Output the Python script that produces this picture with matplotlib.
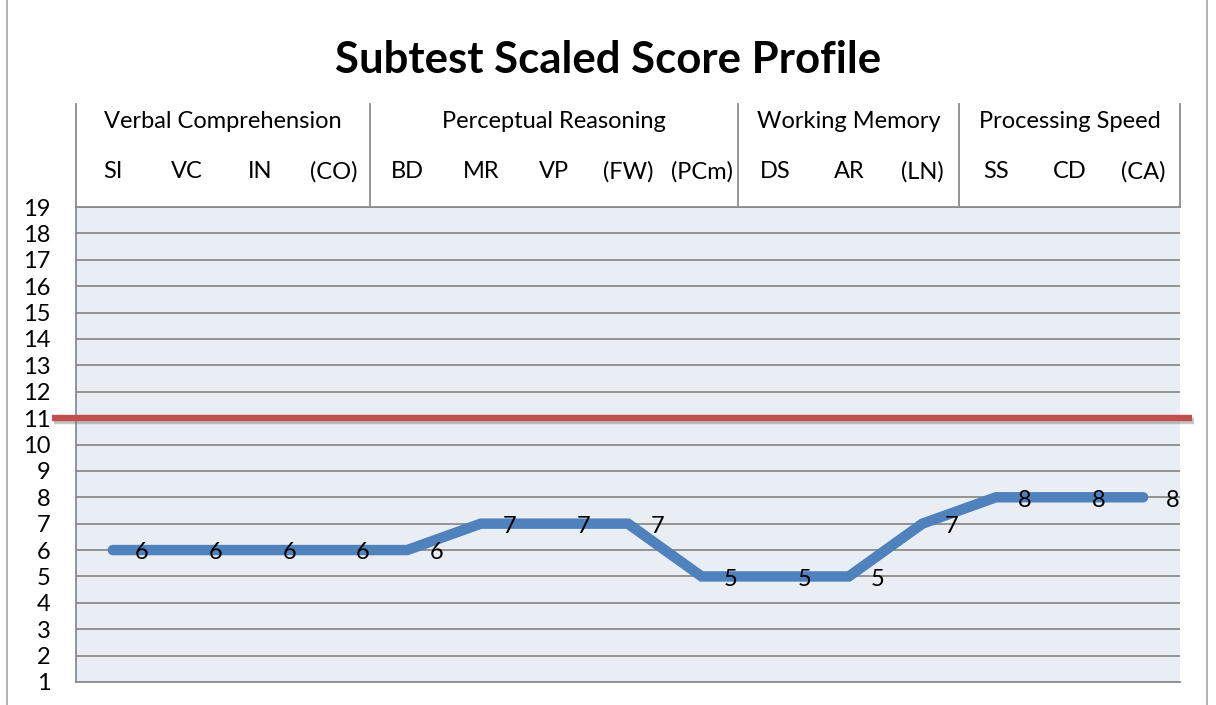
import matplotlib
matplotlib.use("Agg")
import matplotlib.pyplot as plt
import matplotlib.patheffects as pe
from matplotlib.lines import Line2D

# ---- data ----
groups = ["Verbal Comprehension", "Perceptual Reasoning", "Working Memory", "Processing Speed"]
group_sizes = [4, 5, 3, 3]
subtests = ["SI", "VC", "IN", "(CO)", "BD", "MR", "VP", "(FW)", "(PCm)",
            "DS", "AR", "(LN)", "SS", "CD", "(CA)"]
scores = [6, 6, 6, 6, 6, 7, 7, 7, 5, 5, 5, 7, 8, 8, 8]
reference_score = 11
y_ticks = list(range(1, 20))
title = "Subtest Scaled Score Profile"

FONT = ["Lato", "DejaVu Sans"]
plt.rcParams['font.family'] = FONT
FS = 17

W, H = 1216, 705
fig = plt.figure(figsize=(W / 100, H / 100), dpi=100)
fig.patch.set_facecolor("white")

# figure border lines
for xp in (7, 1207):
    fig.add_artist(Line2D([xp / W, xp / W], [0, 1], color="#A6A6A6", lw=1.2,
                          transform=fig.transFigure))

ax = fig.add_axes([76 / W, (H - 682) / H, (1180 - 76) / W, (682 - 207) / H])
ax.set_facecolor("#E9EDF4")
n = len(subtests)
x = list(range(n))
ax.set_xlim(-0.5, n - 0.5)
ax.set_ylim(min(y_ticks), max(y_ticks))

grid_c = "#8C8C8C"
for yv in y_ticks:
    ax.axhline(yv, color=grid_c, lw=1.3, zorder=1)

for s in ["top", "right"]:
    ax.spines[s].set_visible(False)
for s in ["left", "bottom"]:
    ax.spines[s].set_color(grid_c)
    ax.spines[s].set_linewidth(1.3)

ax.set_yticks(y_ticks)
ax.set_yticklabels([str(v) for v in y_ticks], fontsize=FS)
ax.tick_params(axis="y", length=0, pad=18.5)
ax.set_xticks([])

# reference line with shadow
ax.plot([-0.0217, 1.011], [reference_score, reference_score],
        transform=ax.get_yaxis_transform(), color="#C0504D", lw=4.6,
        solid_capstyle="butt", clip_on=False, zorder=3,
        path_effects=[pe.SimpleLineShadow(offset=(1.5, -2), shadow_color="#7F7F7F", alpha=0.45),
                      pe.Normal()])

# score line
ax.plot(x, scores, color="#4F81BD", lw=7.5, solid_joinstyle="miter",
        solid_capstyle="round", zorder=4)
for xi, v in zip(x, scores):
    ax.annotate(str(v), (xi, v), xytext=(21, -2), textcoords="offset points",
                ha="center", va="center", fontsize=FS, zorder=5,
                annotation_clip=False)

# header table
hdr_c = "#8C8C8C"
trans = ax.transAxes
top_y = (682 - 104) / (682 - 207)
grp_y = (682 - 121) / (682 - 207)
sub_y = (682 - 172) / (682 - 207)

bounds = [0]
for g in group_sizes:
    bounds.append(bounds[-1] + g)
for b in bounds:
    xf = b / n
    ax.plot([xf, xf], [1.0, top_y], transform=trans, color=hdr_c, lw=1.3,
            clip_on=False)
ax.plot([0, 1], [1.0, 1.0], transform=trans, color=hdr_c, lw=1.3, clip_on=False)

for i, g in enumerate(groups):
    cx = (bounds[i] + bounds[i + 1]) / 2 / n
    ax.text(cx, grp_y, g, transform=trans, ha="center", va="center", fontsize=FS)
for i, s in enumerate(subtests):
    ax.text((i + 0.5) / n, sub_y, s, transform=trans, ha="center", va="center",
            fontsize=FS)

fig.text(608 / W, 1 - 60 / H, title, ha="center", va="center", fontsize=31.5,
         fontweight="bold")

fig.savefig("out.png", dpi=100, facecolor="white")
